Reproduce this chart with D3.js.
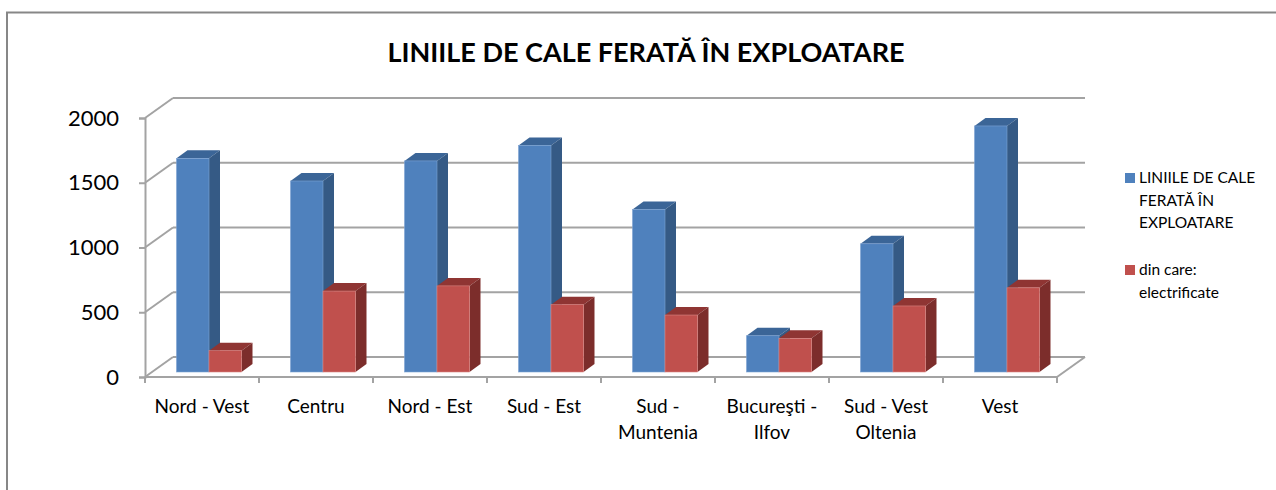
<!DOCTYPE html>
<html>
<head>
<meta charset="utf-8">
<script src="https://cdn.jsdelivr.net/npm/d3@7"></script>
<style>
  html, body { margin: 0; padding: 0; background: #fff; }
  text { font-family: Lato, "Open Sans", sans-serif; fill: #000; }
</style>
</head>
<body>
<script>
const categories = ["Nord - Vest", "Centru", "Nord - Est", "Sud - Est", "Sud - Muntenia", "Bucureşti - Ilfov", "Sud - Vest Oltenia", "Vest"];
const categoryLines = [["Nord - Vest"], ["Centru"], ["Nord - Est"], ["Sud - Est"], ["Sud -", "Muntenia"], ["Bucureşti -", "Ilfov"], ["Sud - Vest", "Oltenia"], ["Vest"]];
const seriesNames = ["LINIILE DE CALE FERATĂ ÎN EXPLOATARE", "din care: electrificate"];
const legendLines = [["LINIILE DE CALE", "FERATĂ ÎN", "EXPLOATARE"], ["din care:", "electrificate"]];
const totalLines = [1650, 1475, 1630, 1750, 1255, 280, 990, 1900];
const electrified = [165, 625, 665, 520, 440, 260, 510, 650];
const yTicks = [0, 500, 1000, 1500, 2000];

const W = 1276, H = 490;
const svg = d3.select("body").append("svg")
    .attr("width", W)
    .attr("height", H);

// outer chart border (right and bottom edges fall outside the picture)
svg.append("rect")
    .attr("x", 7).attr("y", 12.5)
    .attr("width", 1300).attr("height", 500)
    .attr("fill", "#fff")
    .attr("stroke", "#878787")
    .attr("stroke-width", 2);

// title
svg.append("text")
    .attr("x", 646)
    .attr("y", 62)
    .attr("text-anchor", "middle")
    .style("font-size", "27px")
    .style("font-weight", "bold")
    .text("LINIILE DE CALE FERATĂ ÎN EXPLOATARE");

// 3d projection: front plane, wall depth and bar depth
const wallDx = 28, wallDy = -20;
const barFrontDx = 7, barFrontDy = -5;
const barDepthDx = 11, barDepthDy = -8;

const x = d3.scaleBand()
    .domain(categories)
    .range([145, 1057])
    .padding(0);

const xs = d3.scaleBand()
    .domain(seriesNames)
    .range([0, x.bandwidth()])
    .paddingInner(0)
    .paddingOuter(0.754);

const y = d3.scaleLinear()
    .domain([0, 2000])
    .range([377, 118]);

const gridColor = "#a3a3a3";
const grid = svg.append("g")
    .attr("stroke", gridColor)
    .attr("stroke-width", 2)
    .attr("fill", "none");

// back wall gridlines
grid.selectAll("line.back")
    .data(yTicks)
    .enter().append("line")
    .attr("x1", 145 + wallDx)
    .attr("x2", 1057 + wallDx)
    .attr("y1", d => y(d) + wallDy)
    .attr("y2", d => y(d) + wallDy);

// side wall diagonals
grid.selectAll("line.side")
    .data(yTicks)
    .enter().append("line")
    .attr("x1", 145)
    .attr("x2", 145 + wallDx)
    .attr("y1", d => y(d))
    .attr("y2", d => y(d) + wallDy);

// floor front and right edge
grid.append("line")
    .attr("x1", 145).attr("x2", 1057)
    .attr("y1", y(0)).attr("y2", y(0));
grid.append("line")
    .attr("x1", 1057).attr("x2", 1057 + wallDx)
    .attr("y1", y(0)).attr("y2", y(0) + wallDy);

// y axis
const yAxis = svg.append("g")
    .attr("transform", "translate(145,0)")
    .call(d3.axisLeft(y).tickValues(yTicks).tickSize(6).tickPadding(20).tickFormat(d3.format("d")));
yAxis.select(".domain").attr("stroke", gridColor).attr("stroke-width", 2);
yAxis.selectAll(".tick line").attr("stroke", gridColor).attr("stroke-width", 2);
yAxis.selectAll(".tick text")
    .style("font-size", "22px")
    .style("font-family", "Lato, sans-serif")
    .attr("fill", "#000");

// x axis ticks
const xTicks = [145].concat(categories.map(c => x(c) + x.bandwidth()));
svg.append("g").selectAll("line")
    .data(xTicks)
    .enter().append("line")
    .attr("x1", d => d).attr("x2", d => d)
    .attr("y1", y(0)).attr("y2", y(0) + 6)
    .attr("stroke", gridColor)
    .attr("stroke-width", 2);

// x labels
const xl = svg.append("g").selectAll("text")
    .data(categories)
    .enter().append("text")
    .attr("x", d => x(d) + x.bandwidth() / 2)
    .attr("y", 413)
    .attr("text-anchor", "middle")
    .style("font-size", "19px");
xl.selectAll("tspan")
    .data((d, i) => categoryLines[i])
    .enter().append("tspan")
    .attr("x", function () { return d3.select(this.parentNode).attr("x"); })
    .attr("dy", (d, i) => i === 0 ? 0 : 26)
    .text(d => d);

// bars
const colors = [
    { front: "#4f81bd", top: "#3b6597", side: "#355a85", edge: "#7ea3d3" },
    { front: "#c0504d", top: "#8f3533", side: "#7c2d2b", edge: "#d98582" }
];
const seriesValues = [totalLines, electrified];

const barG = svg.append("g");
categories.forEach((cat, i) => {
    seriesNames.forEach((s, j) => {
        const v = seriesValues[j][i];
        const c = colors[j];
        const x0 = x(cat) + xs(s) + barFrontDx;
        const x1 = x0 + xs.bandwidth();
        const yb = y(0) + barFrontDy;
        const yt = y(v) + barFrontDy;
        const g = barG.append("g");
        // top
        g.append("path")
            .attr("d", `M${x0},${yt}L${x0 + barDepthDx},${yt + barDepthDy}L${x1 + barDepthDx},${yt + barDepthDy}L${x1},${yt}Z`)
            .attr("fill", c.top);
        // side
        g.append("path")
            .attr("d", `M${x1},${yt}L${x1 + barDepthDx},${yt + barDepthDy}L${x1 + barDepthDx},${yb + barDepthDy}L${x1},${yb}Z`)
            .attr("fill", c.side);
        // front
        g.append("rect")
            .attr("x", x0).attr("y", yt)
            .attr("width", x1 - x0).attr("height", yb - yt)
            .attr("fill", c.front)
            .attr("stroke", c.edge)
            .attr("stroke-width", 0.6);
    });
});

// legend
const legendY = [173, 265];
const lg = svg.append("g");
seriesNames.forEach((s, j) => {
    lg.append("rect")
        .attr("x", 1125).attr("y", legendY[j])
        .attr("width", 10).attr("height", 10)
        .attr("fill", colors[j].front);
    lg.append("g").selectAll("text")
        .data(legendLines[j])
        .enter().append("text")
        .attr("x", 1139)
        .attr("y", (d, k) => legendY[j] + 10 + k * 22.5)
        .style("font-size", "15.5px")
        .text(d => d);
});
</script>
</body>
</html>
